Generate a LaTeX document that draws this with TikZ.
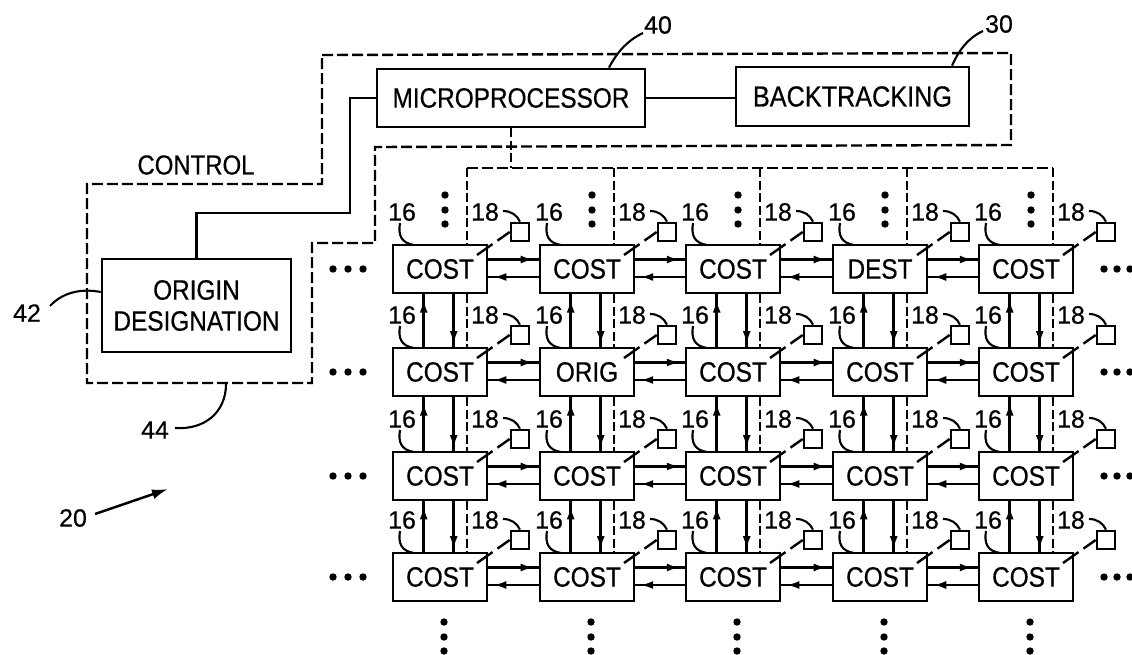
\documentclass[tikz,border=0pt]{standalone}
\usepackage{fontspec}
\setmainfont[FakeStretch=0.87,FakeBold=0.5]{Liberation Sans}
\newfontfamily\numf[FakeBold=0.5]{Liberation Sans}
\usetikzlibrary{arrows.meta,decorations.markings,calc}
\tikzset{
  box/.style={draw=black,line width=2.6pt,fill=white,inner sep=0pt,align=center,font=\fontsize{28}{31}\selectfont},
  cellbox/.style={box,minimum width=94pt,minimum height=48pt},
  lab/.style={inner sep=0pt,font=\numf\fontsize{25}{27}\selectfont},
  toptext/.style={inner sep=0pt,font=\fontsize{27.5}{30}\selectfont},
  wire/.style={line width=2.5pt},
  leader/.style={line width=2.1pt},
  busline/.style={line width=2.4pt,dash pattern=on 11pt off 4pt},
  vdash/.style={line width=2.2pt,dash pattern=on 9pt off 3.5pt},
  diag/.style={line width=2.4pt,dash pattern=on 19pt off 6pt},
  small/.style={draw=black,line width=2.6pt,fill=white,minimum size=18pt,inner sep=0pt},
  headed/.style={line width=2.5pt,postaction={decorate},decoration={markings,
     mark=at position #1 with {\arrow{Latex[length=13pt,width=8pt]}}}},
  dotmark/.style={fill=black,draw=none}
}
\begin{document}
\begin{tikzpicture}[x=1pt,y=-1pt]
\useasboundingbox (0,0) rectangle (1132,654);
\clip (0,0) rectangle (1132,654);
% control enclosure
\draw[busline] (322,55) -- (1011,53) -- (1011,145) -- (375,147) -- (375,243) -- (312,243) -- (312,383) -- (87,383) -- (87,184) -- (322,184) -- cycle;
% top blocks
\node[box,minimum width=268pt,minimum height=58pt] (micro) at (511,98) {MICROPROCESSOR};
\node[box,minimum width=233pt,minimum height=59pt,font=\fontsize{29}{31}\selectfont] (back) at (852.5,96.5) {BACKTRACKING};
\node[box,minimum width=189pt,minimum height=93pt] (origin) at (196.5,305.5) {ORIGIN\\DESIGNATION};
\draw[wire] (micro.east) -- (micro.east -| back.west);
\draw[wire] (micro.west) -- (350,98) -- (350,213) -- (origin.north |- 0,213) -- (origin.north);
\node[toptext] (control) at (196,165) {CONTROL};
% reference numerals
\node[lab] (n40) at (658,25) {40};
\node[lab] (n30) at (999,24) {30};
\node[lab] (n42) at (27,313) {42};
\node[lab] (n44) at (155,430) {44};
\node[lab] (n20) at (73,518) {20};
\coordinate (l40) at ([xshift=-15pt,yshift=-8pt]n40.center);
\coordinate (l30) at ([xshift=-16pt,yshift=-7pt]n30.center);
\draw[leader] (l40) .. controls (628,40) and (617,52) .. ([xshift=98pt]micro.north);
\draw[leader] (l30) .. controls (968,38) and (959,50) .. ([xshift=99.5pt]back.north);
\coordinate (l42) at (50,306);
\coordinate (l44) at (175,428);
\draw[leader] (l42) .. controls (62,293) and (80,288) .. (origin.west |- 0,292);
\coordinate (e44) at (226,384);
\draw[leader] (l44) .. controls (205,430) and (226,412) .. (e44);
\coordinate (s20) at (95,514);
\coordinate (e20) at (168,489);
\draw[line width=2.5pt,-{Latex[length=16pt,width=10pt]}] (s20) -- (e20);
% grid
\foreach \r/\T in {1/245,2/348,3/452,4/553}{
 \foreach \c/\L in {1/393,2/540,3/686,4/833,5/979}{
  \def\txt{COST}
  \ifnum\r\c=14 \def\txt{DEST}\fi
  \ifnum\r\c=22 \def\txt{ORIG}\fi
  \node[cellbox] (c\r\c) at (\L+47,\T+24) {\txt};
  \node[small] (s\r\c) at (\L+127,\T-13) {};
  \node[lab] (a\r\c) at (\L+9,\T-33) {16};
  \node[lab] (b\r\c) at (\L+92,\T-33) {18};
  \draw[leader] (\L+7,\T-22) .. controls (\L+5,\T-10) and (\L+8,\T-2) .. (\L+21,\T);
  \draw[leader] (\L+110,\T-34) .. controls (\L+118,\T-34) and (\L+124,\T-30) .. (s\r\c.north);
  \draw[diag] (\L+84,\T+10) -- (s\r\c.west);
 }
}
% horizontal links
\foreach \r in {1,2,3,4}{
 \foreach \c/\n in {1/2,2/3,3/4,4/5}{
  \draw[headed=0.9] ([yshift=9.5pt]c\r\c.east) -- ([yshift=9.5pt]c\r\n.west);
  \draw[headed=0.9] ([yshift=-8pt]c\r\n.west) -- ([yshift=-8pt]c\r\c.east);
 }
}
% vertical links
\foreach \r/\n in {1/2,2/3,3/4}{
 \foreach \c in {1,2,3,4,5}{
  \draw[headed=0.9] ([xshift=32pt]c\n\c.north west) -- ([xshift=32pt]c\r\c.south west);
  \draw[headed=0.95] ([xshift=62pt]c\r\c.south west) -- ([xshift=62pt]c\n\c.north west);
  \draw[vdash] ([xshift=75pt]c\r\c.south west) -- ([xshift=75pt]c\n\c.north west);
 }
}
% bus
\coordinate (bus1) at ([xshift=75pt]c11.north west |- 0,168);
\coordinate (bus5) at ([xshift=75pt]c15.north west |- 0,168);
\draw[busline] (bus1) -- (bus5);
\draw[vdash] (micro.south) -- (micro.south |- bus1);
\foreach \c in {1,2,3,4,5}{
  \draw[vdash] ([xshift=75pt]c1\c.north west |- bus1) -- ([xshift=75pt]c1\c.north west);
}
% ellipses
\foreach \L in {393,540,686,833,979}{
 \foreach \d in {195,210,224}{ \fill[dotmark] (\L+52,\d) circle (3.7pt); }
 \foreach \d in {622,637,651}{ \fill[dotmark] (\L+51,\d) circle (3.7pt); }
}
\foreach \y in {269,372,476,577}{
 \foreach \d in {333,348,363}{ \fill[dotmark] (\d,\y) circle (3.7pt); }
 \foreach \d in {1104,1117,1130}{ \fill[dotmark] (\d,\y) circle (3.7pt); }
}
\end{tikzpicture}
\end{document}
